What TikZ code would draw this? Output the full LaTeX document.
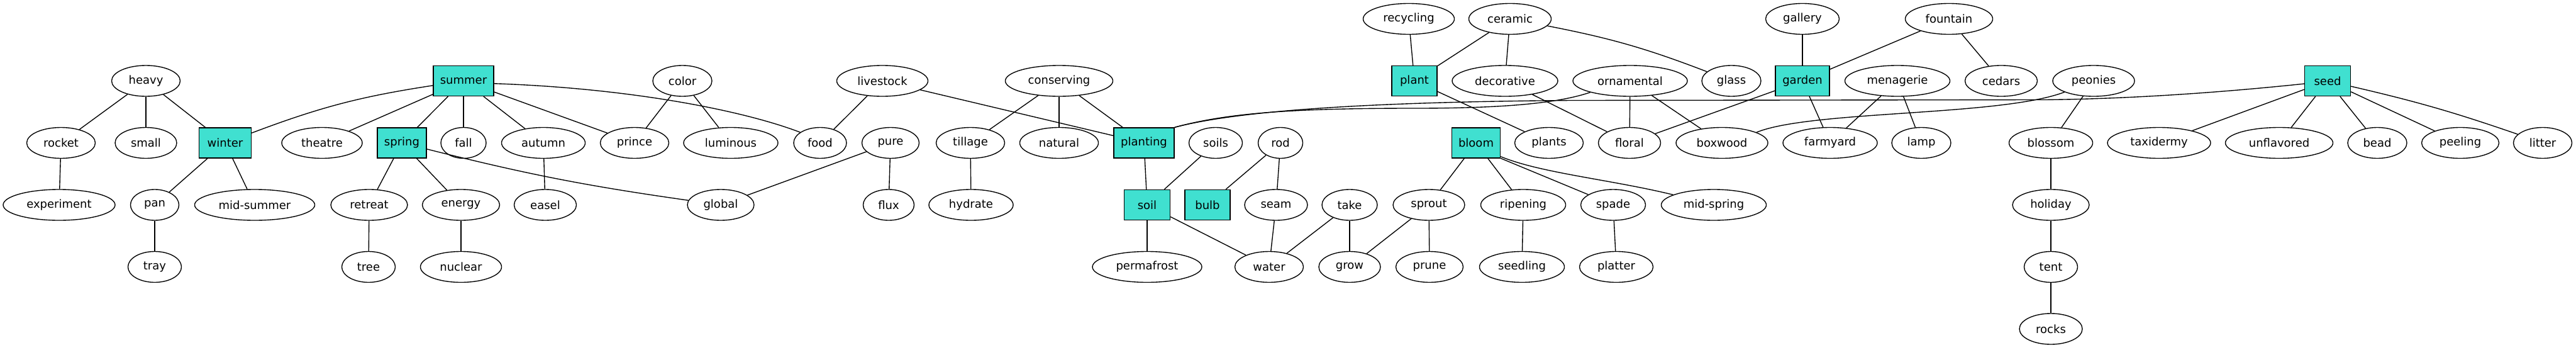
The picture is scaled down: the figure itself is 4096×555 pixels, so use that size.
\documentclass[tikz,border=0pt]{standalone}
\usepackage{fontspec}
\setmainfont{DejaVu Sans}
\usetikzlibrary{shapes.geometric}
\definecolor{tq}{HTML}{40E0D0}
\begin{document}
\begin{tikzpicture}[x=1pt,y=1pt,
  ell/.style={ellipse, draw, line width=1.37pt, minimum height=49pt, inner sep=0pt, font=\fontsize{18}{21}\selectfont},
  bx/.style={rectangle, draw, fill=tq, line width=1.37pt, minimum height=48pt, inner sep=0pt, font=\fontsize{18}{21}\selectfont},
  ln/.style={line width=1.37pt}]
\useasboundingbox (0,0) rectangle (4096,-555);
% row 0
\node[ell, minimum width=145pt] (recycling) at (2240,-30) {recycling};
\node[ell, minimum width=131pt] (ceramic) at (2401,-30) {ceramic};
\node[ell, minimum width=117pt] (gallery) at (2866,-30) {gallery};
\node[ell, minimum width=139pt] (fountain) at (3099,-30) {fountain};
% row 1
\node[ell, minimum width=109pt] (heavy) at (232,-128.5) {heavy};
\node[bx, minimum width=96pt] (summer) at (737,-128.5) {summer};
\node[ell, minimum width=94pt] (color) at (1085,-128.5) {color};
\node[ell, minimum width=145pt] (livestock) at (1403,-128.5) {livestock};
\node[ell, minimum width=171pt] (conserving) at (1684,-128.5) {conserving};
\node[bx, minimum width=72pt] (plant) at (2249,-128.5) {plant};
\node[ell, minimum width=168pt] (decorative) at (2393,-128.5) {decorative};
\node[ell, minimum width=182pt] (ornamental) at (2592,-128.5) {ornamental};
\node[ell, minimum width=94pt] (glass) at (2753,-128.5) {glass};
\node[bx, minimum width=86pt] (garden) at (2866,-128.5) {garden};
\node[ell, minimum width=167pt] (menagerie) at (3017,-128.5) {menagerie};
\node[ell, minimum width=115pt] (cedars) at (3182,-128.5) {cedars};
\node[ell, minimum width=130pt] (peonies) at (3329,-128.5) {peonies};
\node[bx, minimum width=73pt] (seed) at (3701,-128.5) {seed};
% row 2
\node[ell, minimum width=109pt] (rocket) at (97,-227) {rocket};
\node[ell, minimum width=98pt] (small) at (232,-227) {small};
\node[bx, minimum width=83pt] (winter) at (358,-227) {winter};
\node[ell, minimum width=128pt] (theatre) at (512,-227) {theatre};
\node[bx, minimum width=78pt] (spring) at (639,-227) {spring};
\node[ell, minimum width=72pt] (fall) at (737,-227) {fall};
\node[ell, minimum width=133pt] (autumn) at (864,-227) {autumn};
\node[ell, minimum width=109pt] (prince) at (1009,-227) {prince};
\node[ell, minimum width=150pt] (luminous) at (1162,-227) {luminous};
\node[ell, minimum width=84pt] (food) at (1304,-227) {food};
\node[ell, minimum width=91pt] (pure) at (1416,-227) {pure};
\node[ell, minimum width=109pt] (tillage) at (1543,-227) {tillage};
\node[ell, minimum width=125pt] (natural) at (1684,-227) {natural};
\node[bx, minimum width=96pt] (planting) at (1819,-227) {planting};
\node[ell, minimum width=85pt] (soils) at (1933,-227) {soils};
\node[ell, minimum width=71pt] (rod) at (2036,-227) {rod};
\node[bx, minimum width=77pt] (bloom) at (2347,-227) {bloom};
\node[ell, minimum width=109pt] (plants) at (2463,-227) {plants};
\node[ell, minimum width=99pt] (floral) at (2591,-227) {floral};
\node[ell, minimum width=146pt] (boxwood) at (2738,-227) {boxwood};
\node[ell, minimum width=150pt] (farmyard) at (2910,-227) {farmyard};
\node[ell, minimum width=94pt] (lamp) at (3055,-227) {lamp};
\node[ell, minimum width=133pt] (blossom) at (3261,-227) {blossom};
\node[ell, minimum width=164pt] (taxidermy) at (3433,-227) {taxidermy};
\node[ell, minimum width=171pt] (unflavored) at (3624,-227) {unflavored};
\node[ell, minimum width=94pt] (bead) at (3780,-227) {bead};
\node[ell, minimum width=123pt] (peeling) at (3912,-227) {peeling};
\node[ell, minimum width=93pt] (litter) at (4043,-227) {litter};
% row 3
\node[ell, minimum width=178pt] (experiment) at (94,-325.5) {experiment};
\node[ell, minimum width=77pt] (pan) at (246,-325.5) {pan};
\node[ell, minimum width=191pt] (midsummer) at (405,-325.5) {mid-summer};
\node[ell, minimum width=122pt] (retreat) at (587,-325.5) {retreat};
\node[ell, minimum width=123pt] (energy) at (733,-325.5) {energy};
\node[ell, minimum width=99pt] (easel) at (867,-325.5) {easel};
\node[ell, minimum width=106pt] (global) at (1146,-325.5) {global};
\node[ell, minimum width=81pt] (flux) at (1413,-325.5) {flux};
\node[ell, minimum width=134pt] (hydrate) at (1544,-325.5) {hydrate};
\node[bx, minimum width=73pt] (soil) at (1824,-325.5) {soil};
\node[bx, minimum width=72pt] (bulb) at (1920,-325.5) {bulb};
\node[ell, minimum width=100pt] (seam) at (2029,-325.5) {seam};
\node[ell, minimum width=88pt] (take) at (2146,-325.5) {take};
\node[ell, minimum width=114pt] (sprout) at (2272,-325.5) {sprout};
\node[ell, minimum width=135pt] (ripening) at (2422,-325.5) {ripening};
\node[ell, minimum width=103pt] (spade) at (2565,-325.5) {spade};
\node[ell, minimum width=167pt] (midspring) at (2725,-325.5) {mid-spring};
\node[ell, minimum width=122pt] (holiday) at (3261,-325.5) {holiday};
% row 4
\node[ell, minimum width=85pt] (tray) at (246,-424) {tray};
\node[ell, minimum width=85pt] (tree) at (586,-424) {tree};
\node[ell, minimum width=129pt] (nuclear) at (733,-424) {nuclear};
\node[ell, minimum width=174pt] (permafrost) at (1824,-424) {permafrost};
\node[ell, minimum width=109pt] (water) at (2018,-424) {water};
\node[ell, minimum width=98pt] (grow) at (2146,-424) {grow};
\node[ell, minimum width=107pt] (prune) at (2273,-424) {prune};
\node[ell, minimum width=135pt] (seedling) at (2420,-424) {seedling};
\node[ell, minimum width=117pt] (platter) at (2570,-424) {platter};
\node[ell, minimum width=85pt] (tent) at (3261,-424) {tent};
% row 5
\node[ell, minimum width=100pt] (rocks) at (3261,-522.5) {rocks};
% edges
\begin{scope}[ln]
\draw (heavy) -- (rocket);
\draw (heavy) -- (small);
\draw (heavy) -- (winter);
\draw (rocket) -- (experiment);
\draw (winter) -- (pan);
\draw (winter) -- (midsummer);
\draw (pan) -- (tray);
\draw (summer) to[bend right=6] (winter);
\draw (summer) -- (theatre);
\draw (summer) -- (spring);
\draw (summer) -- (fall);
\draw (summer) -- (autumn);
\draw (summer) -- (prince);
\draw (summer.-5) .. controls (1000,-140) and (1180,-175) .. (food.152);
\draw (spring) -- (retreat);
\draw (spring) -- (energy);
\draw (spring) to[bend right=3] (global);
\draw (retreat) -- (tree);
\draw (energy) -- (nuclear);
\draw (autumn) -- (easel);
\draw (color) -- (prince);
\draw (color) -- (luminous);
\draw (livestock) -- (food);
\draw (livestock) -- (planting);
\draw (pure) -- (global);
\draw (pure) -- (flux);
\draw (conserving) -- (tillage);
\draw (conserving) -- (natural);
\draw (conserving) -- (planting);
\draw (tillage) -- (hydrate);
\draw (planting) -- (soil);
\draw (planting.north east) .. controls (1950,-180) and (2050,-172) .. (2250,-172) .. controls (2400,-172) and (2480,-163) .. (ornamental.196);
\draw (planting.north east) .. controls (1960,-178) and (2150,-162) .. (2500,-159.5) -- (3250,-158.5) .. controls (3400,-157) and (3550,-145) .. (seed.187);
\draw (soils) -- (soil);
\draw (rod) -- (bulb);
\draw (rod) -- (seam);
\draw (soil) -- (permafrost);
\draw (soil) -- (water);
\draw (seam) -- (water);
\draw (take) -- (water);
\draw (take) -- (grow);
\draw (sprout) -- (grow);
\draw (sprout) -- (prune);
\draw (recycling) -- (plant);
\draw (ceramic) -- (plant);
\draw (ceramic) -- (decorative);
\draw (ceramic) to[bend left=5] (glass);
\draw (plant) -- (plants);
\draw (decorative) -- (floral);
\draw (ornamental) -- (floral);
\draw (ornamental) -- (boxwood);
\draw (bloom) -- (sprout);
\draw (bloom) -- (ripening);
\draw (bloom.-32) -- (spade);
\draw (bloom.-29) .. controls (2450,-275) and (2560,-285) .. (midspring.166);
\draw (ripening) -- (seedling);
\draw (spade) -- (platter);
\draw (gallery) -- (garden);
\draw (fountain) -- (garden);
\draw (fountain) -- (cedars);
\draw (garden) -- (floral);
\draw (garden) -- (farmyard);
\draw (menagerie) -- (farmyard);
\draw (menagerie) -- (lamp);
\draw (peonies.201) .. controls (3180,-185) and (2880,-175) .. (boxwood.17);
\draw (peonies) -- (blossom);
\draw (blossom) -- (holiday);
\draw (holiday) -- (tent);
\draw (tent) -- (rocks);
\draw (seed) -- (taxidermy);
\draw (seed) -- (unflavored);
\draw (seed) -- (bead);
\draw (seed) -- (peeling);
\draw (seed) to[bend left=3] (litter);
\end{scope}
\end{tikzpicture}
\end{document}
